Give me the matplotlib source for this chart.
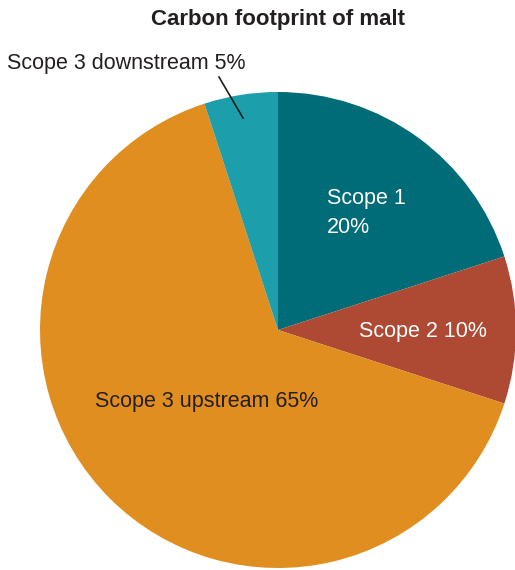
import matplotlib.pyplot as plt

# Data
labels = ["Scope 1", "Scope 2", "Scope 3 upstream", "Scope 3 downstream"]
shares = [20, 10, 65, 5]
colors = ["#006c77", "#ae4a33", "#e08e20", "#1c9eab"]

plt.rcParams["font.family"] = ["Liberation Sans", "DejaVu Sans"]

W, H = 515, 570
fig = plt.figure(figsize=(W / 100, H / 100), dpi=100)
ax = fig.add_axes([0, 0, 1, 1])

# pie drawn in pixel coordinates (y flipped -> counterclock=True gives clockwise look)
ax.pie(
    shares,
    colors=colors,
    startangle=-90,
    counterclock=True,
    center=(278, 330),
    radius=238,
    frame=True,
    wedgeprops=dict(linewidth=0),
)
ax.set_xlim(0, W)
ax.set_ylim(H, 0)
ax.axis("off")

# Title
ax.text(278, 19, "Carbon footprint of malt", ha="center", va="center",
        fontsize=16, fontweight="bold", color="#231f20")

# Slice labels
ax.text(327, 213, f"{labels[0]}\n{shares[0]}%", ha="left", va="center",
        fontsize=15.5, color="white", linespacing=1.45)
ax.text(359, 332, f"{labels[1]} {shares[1]}%", ha="left", va="center",
        fontsize=15.5, color="white")
ax.text(95, 402, f"{labels[2]} {shares[2]}%", ha="left", va="center",
        fontsize=15.5, color="#231f20")
ax.text(7, 64, f"{labels[3]} {shares[3]}%", ha="left", va="center",
        fontsize=15.5, color="#231f20")
ax.plot([219, 243], [77, 118], color="#231f20", lw=1.2)

fig.savefig("out.png", dpi=100)
